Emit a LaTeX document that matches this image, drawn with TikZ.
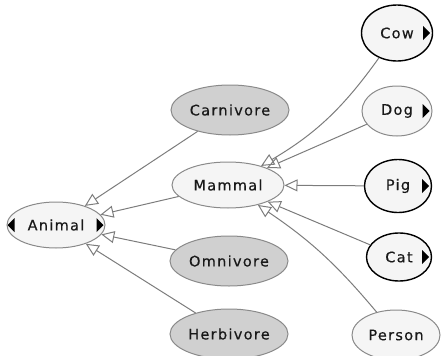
\documentclass[tikz,border=0pt]{standalone}
\usepackage{fontspec}
\newfontfamily\lblfont[LetterSpace=9, FakeBold=0.4]{DejaVu Sans}
\usetikzlibrary{shapes.geometric,arrows.meta}
\definecolor{edgegray}{HTML}{7C7C7C}
\definecolor{lightfill}{HTML}{F5F5F5}
\definecolor{darkfill}{HTML}{D0D0D0}
\definecolor{rimgray}{HTML}{8A8A8A}
\tikzset{
  base/.style={ellipse, inner sep=0pt, line width=1pt},
  classnode/.style={base, draw=rimgray, fill=lightfill},
  boldnode/.style={base, draw=black, line width=1.4pt, fill=lightfill},
  groupnode/.style={base, draw=rimgray, fill=darkfill},
  lbl/.style={font=\lblfont\fontsize{14.5}{16}\selectfont, text=black!90},
  isa/.style={draw=edgegray, line width=1pt,
    -{Triangle[open, length=13pt, width=12pt, line width=1pt]}},
  tri/.style={fill=black}
}
\begin{document}
\begin{tikzpicture}[x=1pt, y=-1pt]
\useasboundingbox (0,0) rectangle (442,356);

% taxonomy nodes
\node[classnode, minimum width=98pt, minimum height=46pt, label={[lbl]center:Animal}] (animal) at (56,225) {};
\node[classnode, minimum width=112pt, minimum height=46pt, label={[lbl]center:Mammal}] (mammal) at (228,185) {};
\node[groupnode, minimum width=118pt, minimum height=50pt, label={[lbl]center:Carnivore}] (carnivore) at (230,110) {};
\node[groupnode, minimum width=118pt, minimum height=50pt, label={[lbl]center:Omnivore}] (omnivore) at (229,261) {};
\node[groupnode, minimum width=118pt, minimum height=50pt, label={[lbl]center:Herbivore}] (herbivore) at (229,334) {};

\node[boldnode, minimum width=71pt, minimum height=56pt, label={[lbl]center:Cow\hspace{4pt}}] (cow) at (397,33) {};
\node[classnode, minimum width=70pt, minimum height=50pt, label={[lbl]center:Dog\hspace{4pt}}] (dog) at (397,111) {};
\node[boldnode, minimum width=67pt, minimum height=53pt, label={[lbl]center:Pig\hspace{4pt}}] (pig) at (398,186) {};
\node[boldnode, minimum width=65pt, minimum height=48pt, label={[lbl]center:Cat\hspace{4pt}}] (cat) at (399,257) {};
\node[classnode, minimum width=88pt, minimum height=50pt, label={[lbl]center:Person}] (person) at (396,335) {};

% expand markers
\path[tri] (animal.west) ++(1,0) -- ++(7,-7) -- ++(0,14) -- cycle;
\path[tri] (animal.east) ++(-2,0) -- ++(-7,-7) -- ++(0,14) -- cycle;
\path[tri] (cow.east) ++(-3,0) -- ++(-7,-7) -- ++(0,14) -- cycle;
\path[tri] (dog.east) ++(-3,0) -- ++(-7,-7) -- ++(0,14) -- cycle;
\path[tri] (pig.east) ++(-3,0) -- ++(-7,-7) -- ++(0,14) -- cycle;
\path[tri] (cat.east) ++(-3,0) -- ++(-7,-7) -- ++(0,14) -- cycle;

% subclass edges
\draw[isa] (carnivore) -- (animal);
\draw[isa] (mammal) -- (animal);
\draw[isa] (omnivore) -- (animal);
\draw[isa] (herbivore) -- (animal);

\draw[isa] (cow) to[bend left=12] (mammal);
\draw[isa] (dog) -- (mammal);
\draw[isa] (pig) -- (mammal);
\draw[isa] (cat) -- (mammal);
\draw[isa] (person) to[bend right=8] (mammal);
\end{tikzpicture}
\end{document}
